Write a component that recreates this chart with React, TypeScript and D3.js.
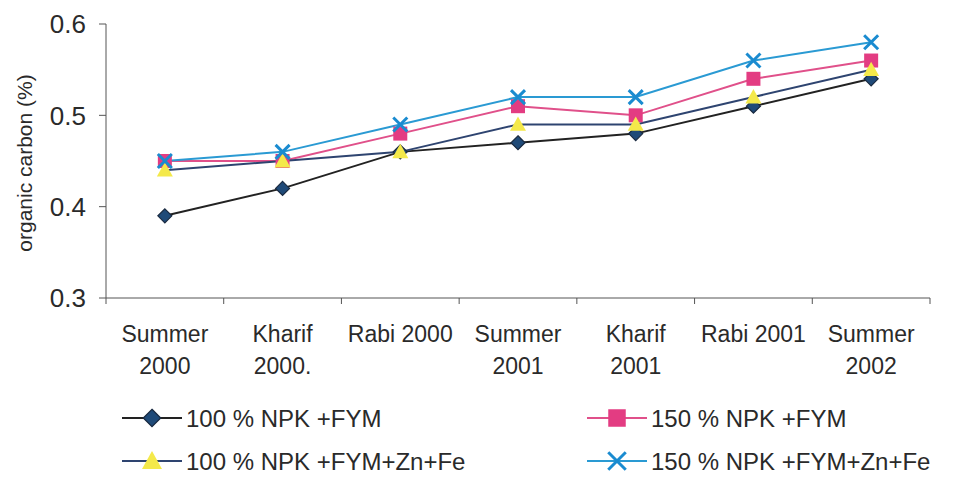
import React from 'react';
import * as d3 from 'd3';

const categories = [
  ['Summer', '2000'],
  ['Kharif', '2000.'],
  ['Rabi 2000'],
  ['Summer', '2001'],
  ['Kharif', '2001'],
  ['Rabi 2001'],
  ['Summer', '2002'],
];
const yTicks = [0.3, 0.4, 0.5, 0.6];

const npk100Fym = [0.39, 0.42, 0.46, 0.47, 0.48, 0.51, 0.54];
const npk150Fym = [0.45, 0.45, 0.48, 0.51, 0.5, 0.54, 0.56];
const npk100Micro = [0.44, 0.45, 0.46, 0.49, 0.49, 0.52, 0.55];
const npk150Micro = [0.45, 0.46, 0.49, 0.52, 0.52, 0.56, 0.58];

const series = [
  { name: '100 % NPK +FYM', values: npk100Fym, line: '#222', fill: '#1f4a78', marker: 'diamond' },
  { name: '150 % NPK +FYM', values: npk150Fym, line: '#e0508a', fill: '#e33c82', marker: 'square' },
  { name: '100 % NPK +FYM+Zn+Fe', values: npk100Micro, line: '#2e4470', fill: '#f4e94a', marker: 'triangle' },
  { name: '150 % NPK +FYM+Zn+Fe', values: npk150Micro, line: '#2a9ad3', fill: '#1a8bd0', marker: 'x' },
];

const W = 956;
const H = 487;
const margin = { left: 106, right: 26, top: 24, bottom: 189 };
const font = '"Liberation Sans", Arial, sans-serif';

function Marker({ kind, x, y, fill, k = 1 }: { kind: string; x: number; y: number; fill: string; k?: number }) {
  if (kind === 'diamond') {
    const s = 7 * k;
    return <path d={`M${x},${y - s}L${x + s},${y}L${x},${y + s}L${x - s},${y}Z`} fill={fill} stroke="#1a2a40" strokeWidth={1.2} />;
  }
  if (kind === 'square') {
    const s = 7 * k;
    return <rect x={x - s} y={y - s} width={2 * s} height={2 * s} fill={fill} />;
  }
  if (kind === 'triangle') {
    const s = 8 * k;
    return <path d={`M${x},${y - s}L${x + s},${y + s * 0.8}L${x - s},${y + s * 0.8}Z`} fill={fill} />;
  }
  const s = 7 * k;
  return (
    <path d={`M${x - s},${y - s}L${x + s},${y + s}M${x + s},${y - s}L${x - s},${y + s}`} stroke={fill} strokeWidth={3} fill="none" />
  );
}

export default function App() {
  const x = d3
    .scaleBand<number>()
    .domain(d3.range(categories.length))
    .range([margin.left, W - margin.right]);
  const y = d3.scaleLinear().domain([0.3, 0.6]).range([H - margin.bottom, margin.top]);
  const cx = (i: number) => (x(i) as number) + x.bandwidth() / 2;
  const line = d3
    .line<number>()
    .x((_, i) => cx(i))
    .y((d) => y(d));
  const axisY = y(0.3);

  const legendPos = [
    { lx: 122, ly: 418 },
    { lx: 587, ly: 418 },
    { lx: 122, ly: 461 },
    { lx: 587, ly: 461 },
  ];

  return (
    <svg width={W} height={H} style={{ position: 'absolute', left: 0, top: 0, background: '#fff' }} fontFamily={font}>
      {/* axes */}
      <line x1={margin.left} x2={margin.left} y1={margin.top} y2={axisY} stroke="#555" strokeWidth={1} />
      <line x1={margin.left} x2={W - margin.right} y1={axisY} y2={axisY} stroke="#555" strokeWidth={1} />
      {yTicks.map((t) => (
        <g key={t}>
          <line x1={margin.left - 7} x2={margin.left} y1={y(t)} y2={y(t)} stroke="#555" />
          <text x={86} y={y(t)} dy="0.36em" textAnchor="end" fontSize={26} fill="#2a2a2a">
            {t.toFixed(1)}
          </text>
        </g>
      ))}
      {d3.range(categories.length + 1).map((i) => {
        const px = i < categories.length ? (x(i) as number) : W - margin.right;
        return <line key={i} x1={px} x2={px} y1={axisY} y2={axisY + 6} stroke="#555" />;
      })}
      {categories.map((lines, i) => (
        <text key={i} x={cx(i)} textAnchor="middle" fontSize={23} fill="#2a2a2a">
          {lines.map((l, j) => (
            <tspan key={j} x={cx(i)} y={342 + j * 32}>
              {l}
            </tspan>
          ))}
        </text>
      ))}
      <text transform={`translate(32,${(margin.top + axisY) / 2 + 2}) rotate(-90)`} textAnchor="middle" fontSize={21} fill="#2a2a2a">
        organic carbon (%)
      </text>

      {/* series */}
      {series.map((s) => (
        <path key={s.name} d={line(s.values) || ''} fill="none" stroke={s.line} strokeWidth={2} />
      ))}
      {series.map((s) =>
        s.values.map((v, i) => <Marker key={s.name + i} kind={s.marker} x={cx(i)} y={y(v)} fill={s.fill} />)
      )}

      {/* legend */}
      {series.map((s, i) => {
        const { lx, ly } = legendPos[i];
        return (
          <g key={s.name}>
            <line x1={lx} x2={lx + 60} y1={ly} y2={ly} stroke={s.line} strokeWidth={2} />
            <Marker kind={s.marker} x={lx + 30} y={ly} fill={s.fill} k={1.25} />
            <text x={lx + 64} y={ly} dy="0.36em" fontSize={24} fill="#2a2a2a">
              {s.name}
            </text>
          </g>
        );
      })}
    </svg>
  );
}
